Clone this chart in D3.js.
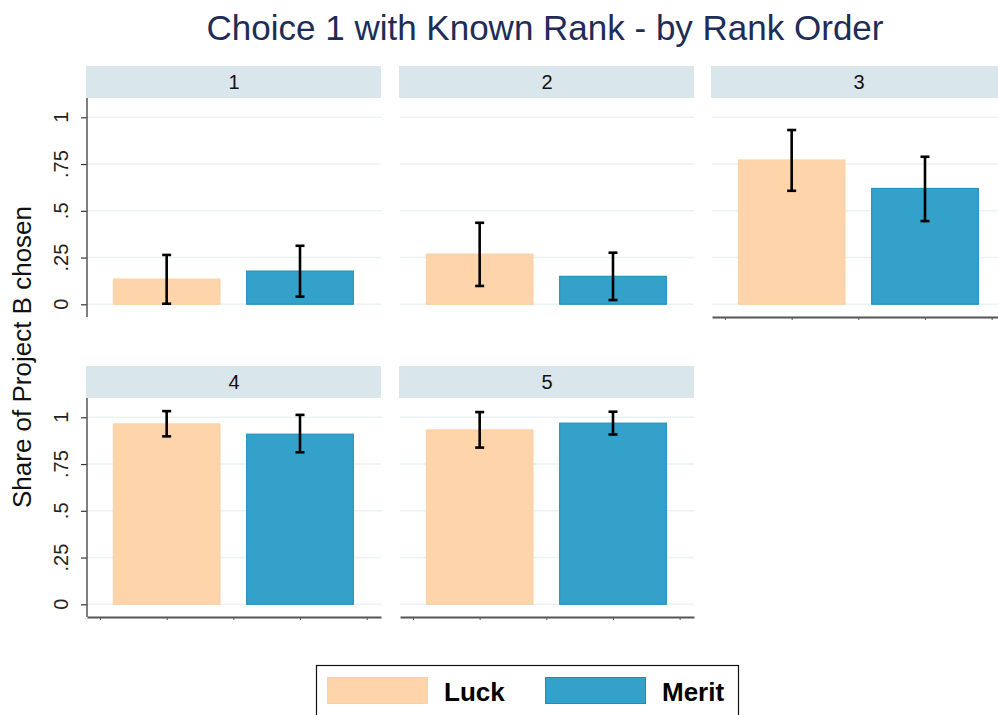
<!DOCTYPE html>
<html>
<head>
<meta charset="utf-8">
<script src="https://cdn.jsdelivr.net/npm/d3@7"></script>
<style>
  body { margin: 0; background: #fff; }
  svg { display: block; font-family: "Liberation Sans", Arial, sans-serif; }
</style>
</head>
<body>
<svg id="chart" width="998" height="715"></svg>
<script>
// values
const ranks = ['1', '2', '3', '4', '5'];
const groups = ['Luck', 'Merit'];
const luckMean  = [0.135, 0.269, 0.772, 0.965, 0.933];
const luckLo    = [0.003, 0.098, 0.607, 0.898, 0.838];
const luckHi    = [0.264, 0.436, 0.932, 1.033, 1.028];
const meritMean = [0.178, 0.150, 0.620, 0.910, 0.969];
const meritLo   = [0.041, 0.023, 0.445, 0.813, 0.908];
const meritHi   = [0.313, 0.276, 0.789, 1.013, 1.030];
const yTicks = [0, 0.25, 0.5, 0.75, 1];
const yTickLabels = ['0', '.25', '.5', '.75', '1'];

const fills = { Luck: '#fed4ab', Merit: '#33a1c9' };
const strokes = { Luck: '#fcd0a4', Merit: '#1a8dbb' };

const svg = d3.select('#chart');

// panel layout (3 columns, 2 rows)
const colX = [87, 400, 712];
const panelW = 294;
const rowTop = [98, 398];
const panelH = 220;
const stripH = 32;

// x: bars sit at positions 1 and 2, ticks at half units
const x = d3.scaleLinear().domain([0.4025, 2.6075]).range([0, panelW]);
const barW = x(0.808) - x(0);
// y: 0 at 206.3 px from panel top, 1 at 19.3 px
const y = d3.scaleLinear().domain([0, 1]).range([206.3, 19.3]);

svg.append('text')
    .attr('x', 545).attr('y', 40)
    .attr('text-anchor', 'middle')
    .attr('font-size', 35)
    .attr('fill', '#1e2d58')
    .text('Choice 1 with Known Rank - by Rank Order');

ranks.forEach((r, i) => {
    const col = i % 3, row = Math.floor(i / 3);
    const g = svg.append('g')
        .attr('transform', `translate(${colX[col]},${rowTop[row]})`);

    // strip
    g.append('rect')
        .attr('x', -1).attr('y', -stripH)
        .attr('width', panelW + 1).attr('height', stripH)
        .attr('fill', '#d9e6eb');
    g.append('text')
        .attr('x', panelW / 2).attr('y', -9)
        .attr('text-anchor', 'middle')
        .attr('font-size', 20)
        .attr('fill', '#111')
        .text(r);

    // gridlines
    g.append('g').selectAll('line')
        .data(yTicks)
        .enter().append('line')
        .attr('x1', 0).attr('x2', panelW)
        .attr('y1', d => y(d)).attr('y2', d => y(d))
        .attr('stroke', '#eaf2f3')
        .attr('stroke-width', 1.5);

    const rows = [
        { grp: 'Luck', pos: 1, mean: luckMean[i], lo: luckLo[i], hi: luckHi[i] },
        { grp: 'Merit', pos: 2, mean: meritMean[i], lo: meritLo[i], hi: meritHi[i] }
    ];

    g.append('g').selectAll('rect')
        .data(rows)
        .enter().append('rect')
        .attr('x', d => x(d.pos) - barW / 2 + 0.5)
        .attr('y', d => y(d.mean))
        .attr('width', barW - 1)
        .attr('height', d => y(0) - y(d.mean))
        .attr('fill', d => fills[d.grp])
        .attr('stroke', d => strokes[d.grp])
        .attr('stroke-width', 1);

    const eb = g.append('g')
        .attr('stroke', '#000')
        .attr('stroke-width', 2.6)
        .selectAll('g')
        .data(rows)
        .enter().append('g');
    eb.append('line')
        .attr('x1', d => x(d.pos)).attr('x2', d => x(d.pos))
        .attr('y1', d => y(d.lo)).attr('y2', d => y(d.hi));
    eb.append('line')
        .attr('x1', d => x(d.pos) - 4.5).attr('x2', d => x(d.pos) + 4.5)
        .attr('y1', d => y(d.lo)).attr('y2', d => y(d.lo));
    eb.append('line')
        .attr('x1', d => x(d.pos) - 4.5).attr('x2', d => x(d.pos) + 4.5)
        .attr('y1', d => y(d.hi)).attr('y2', d => y(d.hi));

    // y axis on first column
    if (col === 0) {
        const ya = g.append('g')
            .call(d3.axisLeft(y).tickValues(yTicks).tickFormat('').tickSize(6));
        ya.select('.domain').remove();
        ya.selectAll('line').attr('stroke', '#333').attr('stroke-width', 1.2);
        // rotated tick labels
        g.append('g').selectAll('text')
            .data(yTicks)
            .enter().append('text')
            .attr('transform', d => `translate(-26,${y(d)}) rotate(-90)`)
            .attr('dy', '0.35em')
            .attr('text-anchor', 'middle')
            .style('font-size', '20px')
            .attr('fill', '#222')
            .text((d, k) => yTickLabels[k]);
        g.append('line')
            .attr('x1', 0).attr('x2', 0)
            .attr('y1', 0).attr('y2', panelH - 1)
            .attr('stroke', '#555').attr('stroke-width', 1.5);
    }

    // x axis on panels with nothing below
    if (row === 1 || col === 2) {
        const xa = g.append('g')
            .attr('transform', `translate(0,${panelH - 1})`)
            .call(d3.axisBottom(x).tickValues([0.5, 1, 1.5, 2, 2.5])
                .tickFormat('').tickSize(3).tickSizeOuter(0));
        xa.select('.domain').attr('stroke', '#555').attr('stroke-width', 1.8);
        xa.selectAll('.tick line').attr('stroke', '#555').attr('stroke-width', 1);
    }
});

// y axis title
svg.append('text')
    .attr('transform', 'translate(31,357) rotate(-90)')
    .attr('text-anchor', 'middle')
    .attr('font-size', 26)
    .attr('fill', '#111')
    .text('Share of Project B chosen');

// legend
const lg = svg.append('g');
lg.append('rect')
    .attr('x', 316.5).attr('y', 665.5)
    .attr('width', 422).attr('height', 60)
    .attr('fill', '#fff')
    .attr('stroke', '#111').attr('stroke-width', 1.2);
const legX = [327, 545];
groups.forEach((grp, k) => {
    lg.append('rect')
        .attr('x', legX[k] + 0.5).attr('y', 677.5)
        .attr('width', 100).attr('height', 26)
        .attr('fill', fills[grp])
        .attr('stroke', strokes[grp]);
    lg.append('text')
        .attr('x', legX[k] + 117).attr('y', 701)
        .attr('font-size', 26)
        .attr('font-weight', 'bold')
        .attr('fill', '#000')
        .text(grp);
});
</script>
</body>
</html>
